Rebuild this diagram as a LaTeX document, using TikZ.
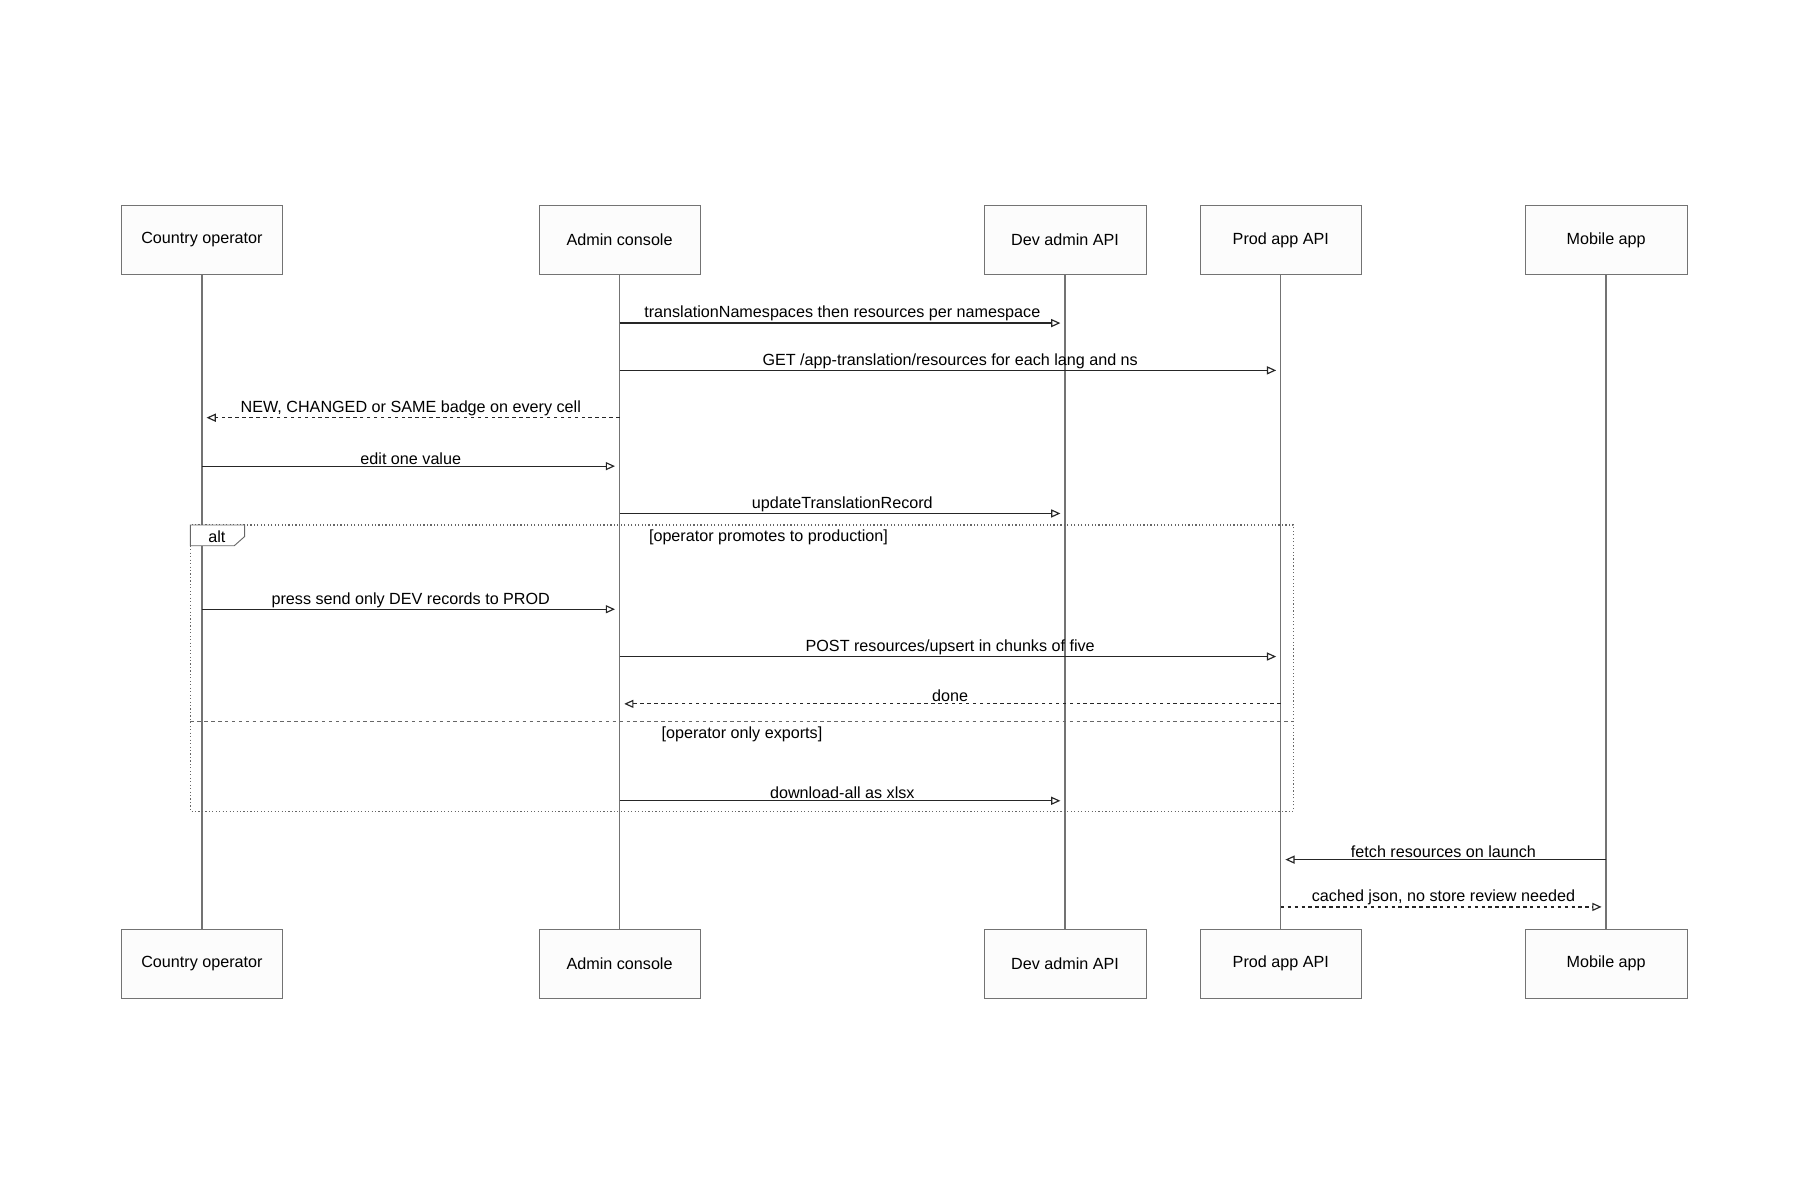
\documentclass[tikz,border=0pt]{standalone}
\usepackage{fontspec}
\setmainfont{Liberation Sans}
\usetikzlibrary{arrows.meta}
\begin{document}
\begin{tikzpicture}[x=1pt,y=-1pt,
 actor/.style={draw=black!55,fill=black!1,minimum width=140,minimum height=60,inner sep=0,font=\fontsize{14}{16}\selectfont},
 life/.style={draw=black!55,line width=1.2},
 msg/.style={draw=black!85,line width=1,-{Triangle[open,length=8,width=7]},shorten >=4},
 rep/.style={msg,dashed},
 lab/.style={font=\fontsize{14}{16}\selectfont,inner sep=1,anchor=south},
 frame/.style={draw=black!60,dotted,line width=1}]
\useasboundingbox (0,0) rectangle (1560,1040);
\foreach \n/\x/\t in {co/175/Country operator,ad/537/Admin console,dv/923/Dev admin API,pr/1110/Prod app API,mo/1392/Mobile app}{
 \node[actor] (\n T) at (\x,208) {\t};
 \node[actor] (\n B) at (\x,835) {\t};
 \draw[life] (\n T) -- (\n B);
}
\draw[msg] (adT |- 0,280) -- node[lab]{translationNamespaces then resources per namespace} (dvT |- 0,280);
\draw[msg] (adT |- 0,321) -- node[lab]{GET /app-translation/resources for each lang and ns} (prT |- 0,321);
\draw[rep] (adT |- 0,362) -- node[lab]{NEW, CHANGED or SAME badge on every cell} (coT |- 0,362);
\draw[msg] (coT |- 0,404) -- node[lab]{edit one value} (adT |- 0,404);
\draw[msg] (adT |- 0,445) -- node[lab]{updateTranslationRecord} (dvT |- 0,445);
\coordinate (f1) at (165,455); \coordinate (f2) at (1121,703);
\draw[frame] (f1) rectangle (f2);
\draw[draw=black!60,fill=white,line width=0.8] (165,455) -- (212,455) -- (212,465) -- (203,473) -- (165,473) -- cycle;
\node[font=\fontsize{14}{16}\selectfont] (alt) at (188,465) {alt};
\node[font=\fontsize{14}{16}\selectfont] (c1) at (666,466) {[operator promotes to production]};
\draw[msg] (coT |- 0,528) -- node[lab]{press send only DEV records to PROD} (adT |- 0,528);
\draw[msg] (adT |- 0,569) -- node[lab]{POST resources/upsert in chunks of five} (prT |- 0,569);
\draw[rep] (prT |- 0,610) -- node[lab]{done} (adT |- 0,610);
\coordinate (d1) at (165,625); \coordinate (d2) at (1121,625);
\draw[draw=black!60,dashed,line width=0.8] (d1) -- (d2);
\node[font=\fontsize{14}{16}\selectfont] (c2) at (643,636) {[operator only exports]};
\draw[msg] (adT |- 0,694) -- node[lab]{download-all as xlsx} (dvT |- 0,694);
\draw[msg] (moT |- 0,745) -- node[lab]{fetch resources on launch} (prT |- 0,745);
\draw[rep] (prT |- 0,786) -- node[lab]{cached json, no store review needed} (moT |- 0,786);
\end{tikzpicture}
\end{document}
